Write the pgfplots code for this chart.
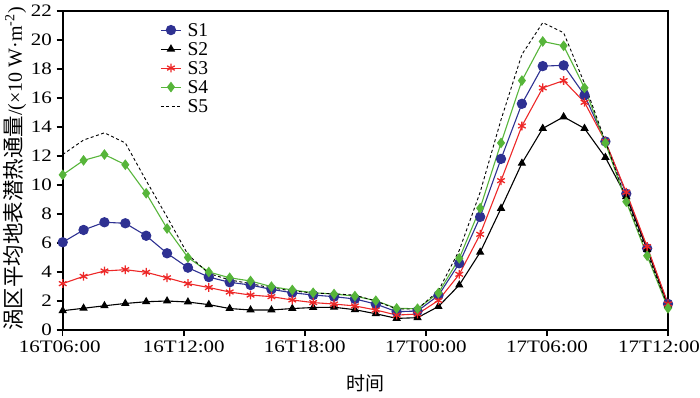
\documentclass[border=0pt]{standalone}
\usepackage{fontspec}
\setmainfont{Liberation Serif}[FakeStretch=1.2]
\newfontfamily\plainserif{Liberation Serif}
\newfontfamily\cjk{Noto Sans CJK SC}
\usepackage{pgfplots}
\pgfplotsset{compat=1.18}
\definecolor{sone}{RGB}{46,49,146}
\definecolor{sthree}{RGB}{237,40,40}
\definecolor{sfour}{RGB}{87,181,58}
\begin{document}
\begin{tikzpicture}
\path[use as bounding box] (0,0) rectangle (700bp,398bp);
\begin{axis}[
  at={(62.7bp,68bp)}, anchor=south west, scale only axis,
  width=605.3bp, height=319bp,
  xmin=0, xmax=29, ymin=0, ymax=22,
  xtick={0,5.8,11.6,17.4,23.2,29},
  xticklabels={\hspace*{-6bp}16T06:00,16T12:00,16T18:00,17T00:00,17T06:00,\hspace*{-18bp}17T12:00},
  ytick={0,2,...,22},
  tick pos=left, tick align=outside, major tick length=6bp,
  every axis/.append style={line width=1.8bp},
  every tick/.style={line width=1.5bp, black},
  ticklabel style={font=\fontsize{17.5bp}{20bp}\selectfont},
  /pgf/number format/assume math mode=true,
  xticklabel style={yshift=-1bp},
  yticklabel style={xshift=-0.5bp},
  clip=false,
  xlabel={{\cjk\fontsize{19bp}{20bp}\selectfont 时间}},
  x label style={at={(axis description cs:0.5,0)}, anchor=center, yshift=-53bp},
  ylabel={{\cjk\fontsize{21.5bp}{22bp}\selectfont 涡区平均地表潜热通量}{\plainserif\fontsize{20bp}{22bp}\selectfont /(×10 W·m\textsuperscript{-2})}},
  y label style={at={(axis description cs:-0.0788,0.505)}, anchor=center},
  legend style={draw=none, fill=none, at={(0.155,0.975)}, anchor=north west,
    font=\plainserif\fontsize{19.5bp}{19.5bp}\selectfont, row sep=2.6bp, column sep=5bp,
    nodes={inner sep=1bp, text height=13.4bp, text depth=1bp}},
  legend cell align=left,
  legend image code/.code={\draw[mark repeat=2,mark phase=2,#1] plot coordinates {(0bp,0bp) (10bp,0bp) (20bp,0bp)};},
]
\addplot[color=sone, line width=1.1bp, mark=*, mark size=4.6bp, mark options={solid, fill=sone}] coordinates {
(0,6.05) (1,6.9) (2,7.43) (3,7.36) (4,6.5) (5,5.29) (6,4.3) (7,3.65) (8,3.29) (9,3.1)
(10,2.8) (11,2.57) (12,2.41) (13,2.3) (14,2.14) (15,1.79) (16,1.26) (17,1.31) (18,2.38) (19,4.6)
(20,7.8) (21,11.8) (22,15.6) (23,18.2) (24,18.25) (25,16.2) (26,13.0) (27,9.4) (28,5.63) (29,1.8)};
\addlegendentry{S1}
\addplot[color=black, line width=1.1bp, mark=triangle*, mark size=3.8bp, mark options={solid, fill=black}] coordinates {
(0,1.33) (1,1.5) (2,1.67) (3,1.83) (4,1.95) (5,2.0) (6,1.93) (7,1.75) (8,1.48) (9,1.38)
(10,1.38) (11,1.48) (12,1.55) (13,1.57) (14,1.4) (15,1.12) (16,0.8) (17,0.85) (18,1.62) (19,3.1)
(20,5.36) (21,8.39) (22,11.5) (23,13.9) (24,14.7) (25,13.9) (26,11.9) (27,9.2) (28,5.55) (29,1.7)};
\addlegendentry{S2}
\addplot[color=sthree, line width=1.1bp, mark=asterisk, mark size=4.4bp, mark options={solid, line width=1.3bp}] coordinates {
(0,3.2) (1,3.7) (2,4.07) (3,4.16) (4,3.98) (5,3.6) (6,3.2) (7,2.93) (8,2.62) (9,2.41)
(10,2.3) (11,2.07) (12,1.89) (13,1.79) (14,1.66) (15,1.38) (16,1.03) (17,1.1) (18,2.04) (19,3.84)
(20,6.6) (21,10.3) (22,14.07) (23,16.7) (24,17.2) (25,15.7) (26,13.0) (27,9.5) (28,5.75) (29,1.8)};
\addlegendentry{S3}
\addplot[color=sfour, line width=1.1bp, mark=diamond*, mark size=4.5bp, mark options={solid, fill=sfour}] coordinates {
(0,10.7) (1,11.7) (2,12.1) (3,11.4) (4,9.43) (5,7.0) (6,5.0) (7,4.0) (8,3.6) (9,3.38)
(10,2.99) (11,2.76) (12,2.57) (13,2.48) (14,2.34) (15,2.02) (16,1.49) (17,1.47) (18,2.55) (19,4.94)
(20,8.4) (21,12.9) (22,17.2) (23,19.9) (24,19.6) (25,16.7) (26,12.9) (27,8.85) (28,5.12) (29,1.5)};
\addlegendentry{S4}
\addplot[color=black, line width=0.9bp, dash pattern=on 3bp off 2.5bp, mark=none] coordinates {
(0,12.1) (1,13.1) (2,13.6) (3,12.9) (4,10.3) (5,7.8) (6,5.2) (7,3.9) (8,3.45) (9,3.2)
(10,2.9) (11,2.7) (12,2.55) (13,2.5) (14,2.4) (15,2.0) (16,1.45) (17,1.45) (18,2.7) (19,5.5)
(20,9.5) (21,14.5) (22,19.0) (23,21.2) (24,20.5) (25,17.0) (26,13.0) (27,9.0) (28,5.3) (29,1.6)};
\addlegendentry{S5}
\end{axis}
\end{tikzpicture}
\end{document}
